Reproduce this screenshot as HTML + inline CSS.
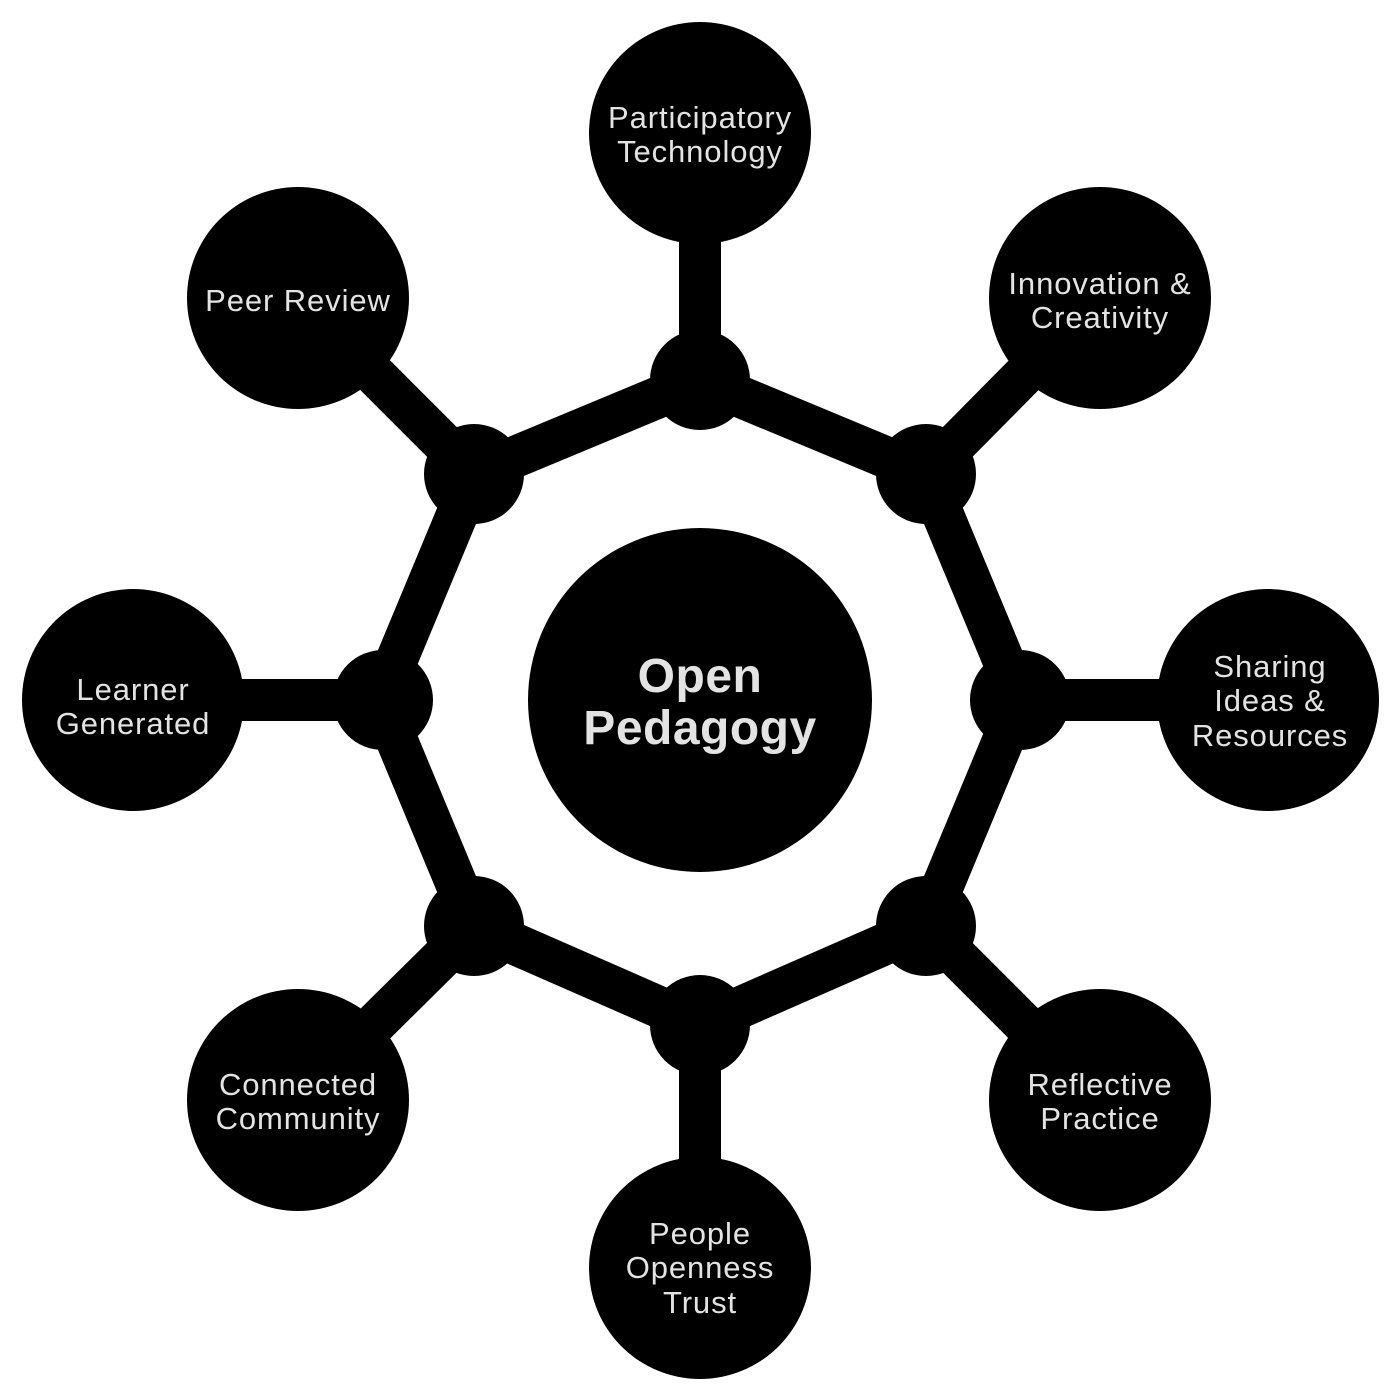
<!DOCTYPE html>
<html><head><meta charset="utf-8"><style>
html,body{margin:0;padding:0;background:#fff;}
svg{display:block;}
text{font-family:"Liberation Sans",Arial,sans-serif;fill:#e3e3e3;text-anchor:middle;}
</style></head><body>
<svg width="1400" height="1400" viewBox="0 0 1400 1400" xmlns="http://www.w3.org/2000/svg">
<g stroke="#000" stroke-width="42" fill="none">
<polygon points="700,380 926,474 1020,700 926,926 700,1025 474,926 380,700 474,474"/>
<line x1="700" y1="380" x2="700" y2="133"/>
<line x1="926" y1="474" x2="1100" y2="298"/>
<line x1="1020" y1="700" x2="1268" y2="700"/>
<line x1="926" y1="926" x2="1100" y2="1100"/>
<line x1="700" y1="1025" x2="700" y2="1268"/>
<line x1="474" y1="926" x2="298" y2="1100"/>
<line x1="380" y1="700" x2="133" y2="700"/>
<line x1="474" y1="474" x2="298" y2="298"/>
</g>
<g fill="#000">
<circle cx="700" cy="380" r="50"/><circle cx="926" cy="474" r="50"/><circle cx="1020" cy="700" r="50"/><circle cx="926" cy="926" r="50"/>
<circle cx="700" cy="1025" r="50"/><circle cx="474" cy="926" r="50"/><circle cx="383" cy="700" r="50"/><circle cx="474" cy="474" r="50"/>
<circle cx="700" cy="700" r="172"/>
<circle cx="700" cy="133" r="111"/><circle cx="1100" cy="298" r="111"/><circle cx="1268" cy="700" r="111"/><circle cx="1100" cy="1100" r="111"/>
<circle cx="700" cy="1268" r="111"/><circle cx="298" cy="1100" r="111"/><circle cx="133" cy="700" r="111"/><circle cx="298" cy="298" r="111"/>
</g>
<g font-size="31" letter-spacing="0.9">
<text x="700" y="128">Participatory</text><text x="700" y="162">Technology</text>
<text x="1100" y="294">Innovation &amp;</text><text x="1100" y="328">Creativity</text>
<text x="1270" y="677">Sharing</text><text x="1270" y="711">Ideas &amp;</text><text x="1270" y="746">Resources</text>
<text x="1100" y="1095">Reflective</text><text x="1100" y="1129">Practice</text>
<text x="700" y="1244">People</text><text x="700" y="1278">Openness</text><text x="700" y="1313">Trust</text>
<text x="298" y="1095">Connected</text><text x="298" y="1129">Community</text>
<text x="133" y="700">Learner</text><text x="133" y="734">Generated</text>
<text x="298" y="311">Peer Review</text>
</g>
<g font-size="48" font-weight="bold" letter-spacing="0.5">
<text x="700" y="692">Open</text><text x="700" y="744">Pedagogy</text>
</g>
</svg>
</body></html>
